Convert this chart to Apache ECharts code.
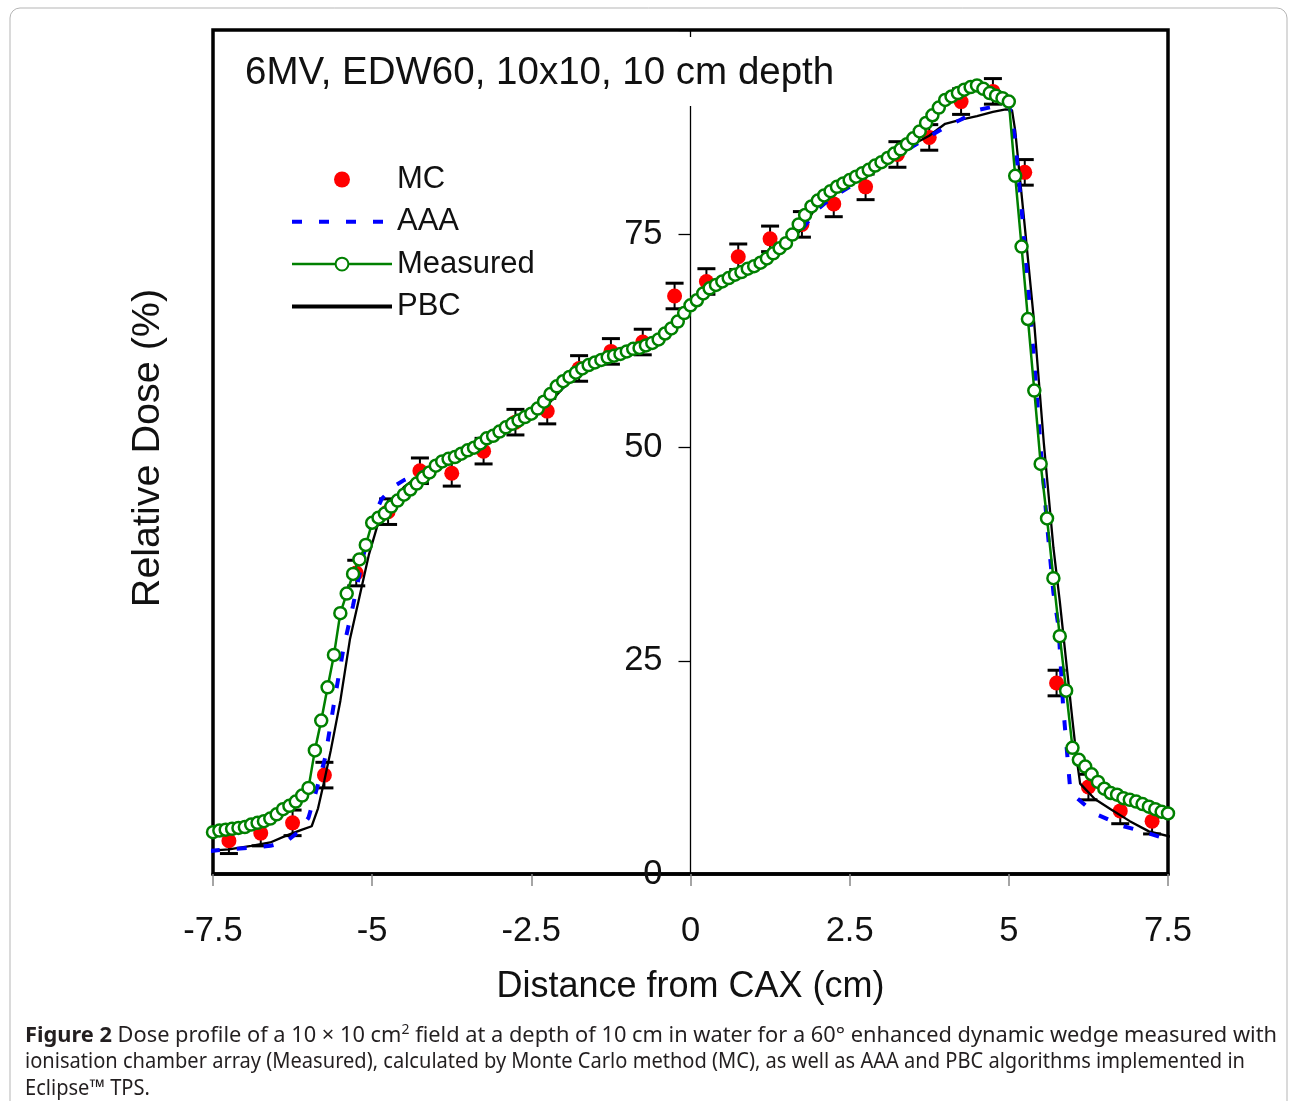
<!DOCTYPE html>
<html><head><meta charset="utf-8">
<script src="https://cdn.jsdelivr.net/npm/echarts@6/dist/echarts.min.js"></script>
<style>html,body{margin:0;padding:0;background:#fff}#c{width:1292px;height:1101px}</style>
</head><body><div id="c"></div><script>
// ---- data ----
const X_TICKS = [-7.5, -5, -2.5, 0, 2.5, 5, 7.5];
const Y_TICKS = [0, 25, 50, 75];

const MC_X = [-7.25, -6.75, -6.25, -5.75, -5.25, -4.75, -4.25, -3.75, -3.25, -2.75, -2.25, -1.75, -1.25, -0.75, -0.25,
              0.25, 0.75, 1.25, 1.75, 2.25, 2.75, 3.25, 3.75, 4.25, 4.75, 5.25, 5.75, 6.25, 6.75, 7.25];
const MC_Y = [3.9, 4.8, 6.0, 11.6, 35.3, 42.5, 47.3, 47.0, 49.6, 53.0, 54.3, 59.3, 61.3, 62.4, 67.8,
              69.5, 72.4, 74.5, 76.2, 78.6, 80.6, 84.4, 86.4, 90.6, 91.8, 82.3, 22.4, 10.2, 7.4, 6.2];
const MC_ERR = [1.5, 1.5, 1.5, 1.5, 1.5, 1.5, 1.5, 1.5, 1.5, 1.5, 1.5, 1.5, 1.5, 1.5, 1.5,
                1.5, 1.5, 1.5, 1.5, 1.5, 1.5, 1.5, 1.5, 1.5, 1.5, 1.5, 1.5, 1.5, 1.5, 1.5];

const AAA_X = [-7.55, -7.25, -6.9, -6.6, -6.35, -6.15, -6.0, -5.87, -5.74, -5.6,
               -5.45, -5.3, -5.15, -5.0, -4.85, -4.65, -4.5, -4.25, -4.0, -3.75,
               -3.5, -3.25, -3.0, -2.75, -2.5, -2.25, -2.0, -1.75, -1.5, -1.25,
               -1.0, -0.75, -0.5, -0.25, 0, 0.25, 0.5, 0.75, 1.0, 1.25,
               1.5, 1.75, 2.0, 2.25, 2.5, 2.75, 3.0, 3.25, 3.5, 3.75,
               4.0, 4.25, 4.5, 4.75, 5.0, 5.05, 5.1, 5.2, 5.3, 5.4,
               5.5, 5.6, 5.7, 5.78, 5.85, 5.9, 5.96, 6.07, 6.35, 6.8,
               7.1, 7.64];
const AAA_Y = [2.7, 2.9, 3.1, 3.3, 3.8, 5.0, 6.6, 10.0, 13.6, 20.0,
               26.5, 31.5, 37.0, 41.5, 44.0, 45.5, 46.2, 47.0, 47.8, 48.6,
               49.4, 50.4, 51.5, 52.6, 53.9, 55.2, 57.2, 58.8, 59.9, 60.8,
               61.4, 62.0, 62.8, 64.5, 66.9, 68.6, 69.6, 70.4, 71.2, 72.5,
               73.8, 75.6, 78.0, 79.5, 80.6, 81.8, 83.0, 84.2, 85.4, 86.5,
               87.6, 88.5, 89.6, 90.0, 90.3, 88.5, 86.0, 78.0, 69.0, 60.0,
               50.0, 41.0, 33.0, 29.0, 20.0, 15.5, 10.3, 8.9, 7.1, 5.6,
               5.0, 3.7];

const PBC_X = [-7.6, -7.25, -6.9, -6.6, -6.35, -6.1, -5.95, -5.85, -5.75, -5.65,
               -5.5, -5.35, -5.2, -5.05, -4.92, -4.75, -4.5, -4.25, -4.0, -3.75,
               -3.5, -3.25, -3.0, -2.75, -2.5, -2.25, -2.0, -1.75, -1.5, -1.25,
               -1.0, -0.75, -0.5, -0.25, 0, 0.25, 0.5, 0.75, 1.0, 1.25,
               1.5, 1.75, 2.0, 2.25, 2.5, 2.75, 3.0, 3.25, 3.5, 3.75,
               4.0, 4.25, 4.5, 4.75, 4.95, 5.05, 5.1, 5.25, 5.4, 5.55,
               5.7, 5.8, 5.9, 6.0, 6.07, 6.12, 6.35, 6.6, 6.9, 7.2,
               7.64];
const PBC_Y = [2.7, 2.9, 3.3, 3.7, 4.5, 5.2, 5.6, 7.7, 11.0, 14.5,
               20.3, 27.5, 32.5, 37.5, 40.8, 43.2, 45.4, 46.8, 47.9, 48.7,
               49.4, 50.4, 51.5, 52.5, 53.8, 55.0, 57.0, 58.6, 59.8, 60.6,
               61.2, 61.8, 62.5, 64.2, 66.8, 68.6, 69.5, 70.3, 71.0, 72.3,
               73.6, 75.7, 78.5, 79.8, 80.9, 82.0, 83.3, 84.3, 85.6, 86.6,
               88.0, 88.5, 88.9, 89.4, 89.7, 89.6, 87.2, 76.0, 64.5, 50.5,
               38.3, 32.0, 25.0, 18.0, 13.3, 10.6, 8.8, 7.6, 6.2, 5.0,
               4.2];

const MEAS_X = [-7.5, -7.4, -7.3, -7.2, -7.1, -7.0, -6.9, -6.8, -6.7, -6.6,
                -6.5, -6.4, -6.3, -6.2, -6.1, -6.0, -5.9, -5.8, -5.7, -5.6,
                -5.5, -5.4, -5.3, -5.2, -5.1, -5.0, -4.9, -4.8, -4.7, -4.6,
                -4.5, -4.4, -4.3, -4.2, -4.1, -4.0, -3.9, -3.8, -3.7, -3.6,
                -3.5, -3.4, -3.3, -3.2, -3.1, -3.0, -2.9, -2.8, -2.7, -2.6,
                -2.5, -2.4, -2.3, -2.2, -2.1, -2.0, -1.9, -1.8, -1.7, -1.6,
                -1.5, -1.4, -1.3, -1.2, -1.1, -1.0, -0.9, -0.8, -0.7, -0.6,
                -0.5, -0.4, -0.3, -0.2, -0.1, 0.0, 0.1, 0.2, 0.3, 0.4,
                0.5, 0.6, 0.7, 0.8, 0.9, 1.0, 1.1, 1.2, 1.3, 1.4,
                1.5, 1.6, 1.7, 1.8, 1.9, 2.0, 2.1, 2.2, 2.3, 2.4,
                2.5, 2.6, 2.7, 2.8, 2.9, 3.0, 3.1, 3.2, 3.3, 3.4,
                3.5, 3.6, 3.7, 3.8, 3.9, 4.0, 4.1, 4.2, 4.3, 4.4,
                4.5, 4.6, 4.7, 4.8, 4.9, 5.0, 5.1, 5.2, 5.3, 5.4,
                5.5, 5.6, 5.7, 5.8, 5.9, 6.0, 6.1, 6.2, 6.3, 6.4,
                6.5, 6.6, 6.7, 6.8, 6.9, 7.0, 7.1, 7.2, 7.3, 7.4,
                7.5];
const MEAS_Y = [4.9, 5.1, 5.2, 5.3, 5.4, 5.5, 5.8, 6.0, 6.2, 6.5,
                7.0, 7.6, 8.0, 8.5, 9.2, 10.1, 14.5, 18.0, 21.9, 25.7,
                30.6, 32.9, 35.2, 36.9, 38.6, 41.2, 41.8, 42.3, 43.1, 43.8,
                44.5, 45.1, 45.8, 46.5, 47.1, 47.9, 48.4, 48.7, 48.9, 49.3,
                49.7, 50.0, 50.5, 51.1, 51.4, 51.9, 52.4, 52.8, 53.2, 53.6,
                54.0, 54.6, 55.4, 56.3, 57.2, 57.8, 58.3, 58.8, 59.3, 59.7,
                60.0, 60.3, 60.6, 60.8, 61.0, 61.3, 61.6, 61.7, 62.0, 62.3,
                62.7, 63.4, 64.0, 64.8, 65.8, 66.7, 67.3, 68.1, 68.7, 69.1,
                69.5, 69.9, 70.3, 70.6, 71.0, 71.3, 71.7, 72.2, 72.8, 73.4,
                74.0, 75.0, 76.2, 77.3, 78.3, 79.0, 79.6, 80.1, 80.6, 81.0,
                81.4, 81.8, 82.2, 82.6, 83.1, 83.5, 84.0, 84.5, 85.0, 85.6,
                86.3, 87.1, 88.1, 89.0, 89.9, 90.8, 91.2, 91.6, 92.0, 92.3,
                92.5, 92.1, 91.6, 91.3, 91.0, 90.6, 81.9, 73.6, 65.1, 56.7,
                48.1, 41.7, 34.7, 27.9, 21.5, 14.8, 13.4, 12.6, 11.7, 10.8,
                10.0, 9.5, 9.3, 8.9, 8.7, 8.5, 8.2, 7.9, 7.6, 7.3,
                7.1];

const TITLE = '6MV, EDW60, 10x10, 10 cm depth';
const X_NAME = 'Distance from CAX (cm)';
const Y_NAME = 'Relative Dose (%)';
const CAP1_BOLD = 'Figure 2';
const CAP1_A = ' Dose profile of a 10 \u00d7 10 cm';
const CAP1_SUP = '2';
const CAP1_B = ' field at a depth of 10 cm in water for a 60\u00b0 enhanced dynamic wedge measured with';
const CAP2 = 'ionisation chamber array (Measured), calculated by Monte Carlo method (MC), as well as AAA and PBC algorithms implemented in';
const CAP3 = 'Eclipse\u2122 TPS.';

// ---- chart ----
const FONT = '"Liberation Sans", Arial, sans-serif';
const CAP_FONT = '"Noto Sans", sans-serif';
const CAP_SIZE = 21.8, SUP_SIZE = 14;
const pairs = (xs, ys) => xs.map((x, i) => [x, ys[i]]);

// caption width fitting (each printed line spans a known width in the figure)
const mctx = document.createElement('canvas').getContext('2d');
function textW(font, t) { mctx.font = font; return mctx.measureText(t).width; }
const reg = CAP_SIZE + 'px ' + CAP_FONT, bold = 'bold ' + CAP_SIZE + 'px ' + CAP_FONT, sup = SUP_SIZE + 'px ' + CAP_FONT;
const w1 = textW(bold, CAP1_BOLD) + textW(reg, CAP1_A) + textW(sup, CAP1_SUP) + textW(reg, CAP1_B);
const w2 = textW(reg, CAP2);
const s1 = Math.min(1.2, 1252 / w1), s2 = Math.min(1.2, 1220 / w2);

const GRID_LEFT = 213, GRID_RIGHT = 124;
const plotW = 1292 - GRID_LEFT - GRID_RIGHT;
const xMin = X_TICKS[0], xMax = X_TICKS[X_TICKS.length - 1];
// move the y axis to x = 0 (it sits in the middle of the frame)
const yAxisOffset = -plotW * (0 - xMin) / (xMax - xMin);

const capRich = {
  b: {fontWeight: 'bold', fontSize: CAP_SIZE, fontFamily: CAP_FONT, fill: '#231f20', lineHeight: 26.7},
  sup: {fontSize: SUP_SIZE, fontFamily: CAP_FONT, fill: '#231f20', verticalAlign: 'top', lineHeight: 12}
};

const chart = echarts.init(document.getElementById('c'), null, {renderer: 'canvas'});
chart.setOption({
  backgroundColor: '#fff',
  animation: false,
  textStyle: {fontFamily: FONT},
  title: {
    text: TITLE, left: 239, top: 37, padding: [17, 8, 13, 6],
    backgroundColor: '#fff',
    textStyle: {fontSize: 38.5, fontWeight: 'normal', color: '#111', fontFamily: FONT}
  },
  legend: {
    left: 290, top: 164, orient: 'vertical', padding: 0,
    itemWidth: 100, itemHeight: 16, itemGap: 11.3,
    textStyle: {fontSize: 31, color: '#111', fontFamily: FONT},
    data: [
      {name: 'MC'},
      {name: 'AAA', lineStyle: {width: 4}, itemStyle: {color: 'rgba(0,0,0,0)', borderWidth: 0}},
      {name: 'Measured', lineStyle: {width: 2.5}},
      {name: 'PBC', lineStyle: {width: 4}, itemStyle: {color: 'rgba(0,0,0,0)', borderWidth: 0}}
    ]
  },
  grid: {left: GRID_LEFT, right: GRID_RIGHT, top: 30, bottom: 227, show: true,
         borderColor: '#000', borderWidth: 3.5, backgroundColor: 'transparent'},
  xAxis: {
    type: 'value', min: xMin, max: xMax, interval: 2.5,
    axisLine: {onZero: false, lineStyle: {color: '#000', width: 3.5}},
    axisTick: {length: 12, lineStyle: {color: '#888', width: 1.5}},
    axisLabel: {fontSize: 34.5, color: '#111', margin: 40, fontFamily: FONT},
    splitLine: {show: false},
    name: X_NAME, nameLocation: 'middle', nameGap: 95,
    nameTextStyle: {fontSize: 36, color: '#111', fontFamily: FONT}
  },
  yAxis: {
    type: 'value', min: 0, max: 99, interval: 25, position: 'left', offset: yAxisOffset,
    axisLine: {onZero: false, lineStyle: {color: '#000', width: 1.3}},
    axisTick: {length: 12, lineStyle: {color: '#000', width: 1.3}},
    axisLabel: {fontSize: 34.5, color: '#111', margin: 28, fontFamily: FONT,
                formatter: v => (Y_TICKS.indexOf(v) >= 0 ? String(v) : '')},
    splitLine: {show: false}
  },
  graphic: [
    {type: 'rect', silent: true, z: -10,
     shape: {x: 10, y: 8, width: 1277, height: 1200, r: 10},
     style: {fill: 'none', stroke: '#b5b5b5', lineWidth: 1}},
    {type: 'text', x: 148, y: 448, rotation: Math.PI / 2, silent: true,
     style: {text: Y_NAME, fontSize: 39.5, fontFamily: FONT, fill: '#111',
             align: 'center', verticalAlign: 'middle'}},
    {type: 'text', x: 25, y: 1036, scaleX: s1, silent: true,
     style: {text: '{b|' + CAP1_BOLD + '}' + CAP1_A + '{sup|' + CAP1_SUP + '}' + CAP1_B,
             fontSize: CAP_SIZE, fontFamily: CAP_FONT, fill: '#231f20', lineHeight: 26.7,
             verticalAlign: 'middle', rich: capRich}},
    {type: 'text', x: 25, y: 1062, scaleX: s2, silent: true,
     style: {text: CAP2, fontSize: CAP_SIZE, fontFamily: CAP_FONT, fill: '#231f20', verticalAlign: 'middle'}},
    {type: 'text', x: 25, y: 1089, scaleX: s2, silent: true,
     style: {text: CAP3, fontSize: CAP_SIZE, fontFamily: CAP_FONT, fill: '#231f20', verticalAlign: 'middle'}}
  ],
  series: [
    {
      type: 'custom', name: 'MC error', clip: false, z: 2,
      data: MC_X.map((x, i) => [x, MC_Y[i], MC_ERR[i]]),
      encode: {x: 0, y: 1},
      renderItem: function (params, api) {
        const x = api.value(0), y = api.value(1), e = api.value(2);
        const t = api.coord([x, y + e]), b = api.coord([x, y - e]);
        const hw = 9;
        return {type: 'group', children: [
          {type: 'line', shape: {x1: t[0], y1: t[1], x2: b[0], y2: b[1]}, style: {stroke: '#000', lineWidth: 2}},
          {type: 'line', shape: {x1: t[0] - hw, y1: t[1], x2: t[0] + hw, y2: t[1]}, style: {stroke: '#000', lineWidth: 3}},
          {type: 'line', shape: {x1: b[0] - hw, y1: b[1], x2: b[0] + hw, y2: b[1]}, style: {stroke: '#000', lineWidth: 3}}
        ]};
      }
    },
    {
      type: 'scatter', name: 'MC', clip: false, z: 3,
      data: pairs(MC_X, MC_Y), symbol: 'circle', symbolSize: 15,
      itemStyle: {color: '#ff0000', opacity: 1}
    },
    {
      type: 'line', name: 'PBC', clip: false, z: 4,
      data: pairs(PBC_X, PBC_Y), showSymbol: false, symbol: 'none',
      lineStyle: {color: '#000', width: 2.3}, itemStyle: {color: '#000'}
    },
    {
      type: 'line', name: 'AAA', clip: false, z: 5,
      data: pairs(AAA_X, AAA_Y), showSymbol: false, symbol: 'none',
      lineStyle: {color: '#0000ff', width: 4, type: [10, 17]}, itemStyle: {color: '#0000ff'}
    },
    {
      type: 'line', name: 'Measured', clip: false, z: 6,
      data: pairs(MEAS_X, MEAS_Y), symbol: 'circle', symbolSize: 12, showAllSymbol: true,
      lineStyle: {color: '#008000', width: 2.5},
      itemStyle: {color: '#fff', borderColor: '#008000', borderWidth: 2.5}
    }
  ]
});
</script></body></html>
